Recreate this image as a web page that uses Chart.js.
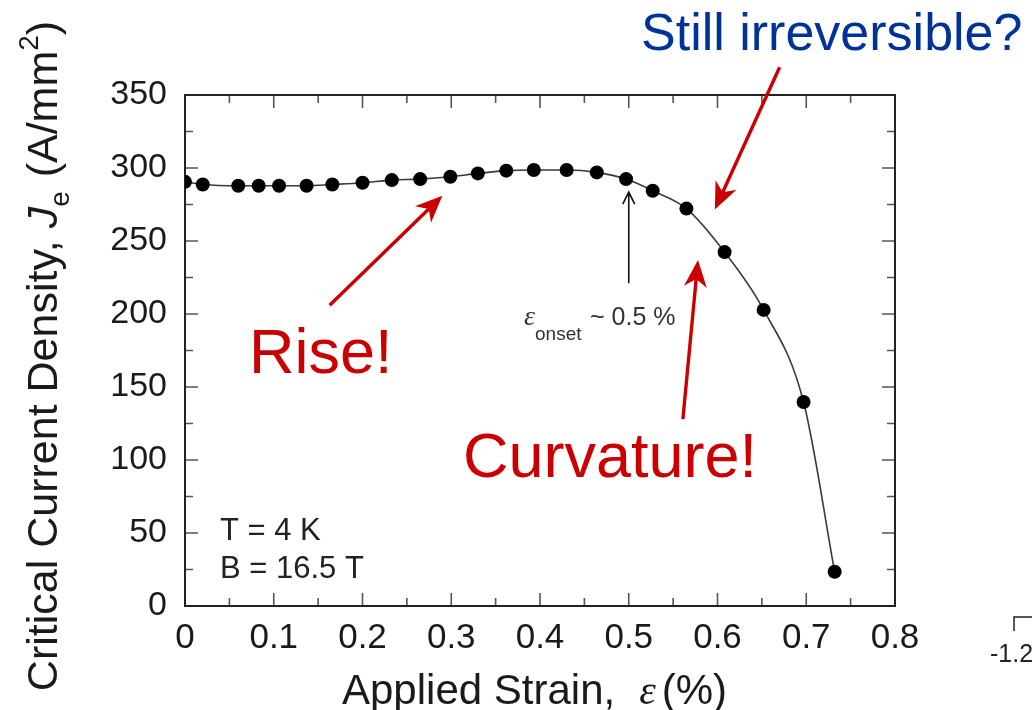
<!DOCTYPE html>
<html>
<head>
<meta charset="utf-8">
<script src="https://cdn.jsdelivr.net/npm/chart.js@4/dist/chart.umd.min.js"></script>
<style>
  body { margin: 0; background: #fff; }
  canvas { display: block; }
</style>
</head>
<body>
<canvas id="jc" width="1032" height="710"></canvas>
<script>
// applied strain (%) and engineering critical current density (A/mm2)
const strain = [0, 0.02, 0.06, 0.083, 0.106, 0.137, 0.166, 0.2, 0.233, 0.265, 0.299, 0.33,
  0.362, 0.393, 0.43, 0.464, 0.497, 0.527, 0.565, 0.608, 0.652, 0.697, 0.732];
const currentDensity = [290.5, 288.7, 287.8, 287.8, 287.8, 287.8, 288.7, 289.9, 291.7, 292.4, 294, 296.3,
  298.2, 298.6, 298.6, 297, 292.4, 284.4, 272.2, 242.4, 202.8, 139.7, 23.5];

const xTickLabels = ['0', '0.1', '0.2', '0.3', '0.4', '0.5', '0.6', '0.7', '0.8'];
const yTickLabels = ['0', '50', '100', '150', '200', '250', '300', '350'];

const SANS = '"Liberation Sans", Arial, sans-serif';
const SERIF = '"Liberation Serif", "Times New Roman", serif';
const RED = '#cc0000';

// filled stealth-style arrow
function redArrow(ctx, x1, y1, x2, y2) {
  const ang = Math.atan2(y2 - y1, x2 - x1);
  const L = 27, W = 11.5, N = 8;
  ctx.save();
  ctx.strokeStyle = RED;
  ctx.fillStyle = RED;
  ctx.lineWidth = 3.4;
  ctx.beginPath();
  ctx.moveTo(x1, y1);
  ctx.lineTo(x2 - Math.cos(ang) * (L - N), y2 - Math.sin(ang) * (L - N));
  ctx.stroke();
  ctx.translate(x2, y2);
  ctx.rotate(ang);
  ctx.beginPath();
  ctx.moveTo(0, 0);
  ctx.lineTo(-L, -W);
  ctx.lineTo(-L + N, 0);
  ctx.lineTo(-L, W);
  ctx.closePath();
  ctx.fill();
  ctx.restore();
}

// draws a run of [text, font, baselineShift, gapAfter] pieces from x
function textRun(ctx, parts, x, y) {
  parts.forEach(p => {
    ctx.font = p[1];
    ctx.fillText(p[0], x, y + p[2]);
    x += ctx.measureText(p[0]).width + (p[3] || 0);
  });
}

const framePlugin = {
  id: 'frame',
  beforeDatasetsDraw(chart) {
    const { ctx, chartArea: a, scales: { x, y } } = chart;
    ctx.save();
    ctx.strokeStyle = '#555';
    ctx.lineWidth = 1.6;
    ctx.beginPath();
    for (let i = 0; i <= 16; i++) {
      const px = x.getPixelForValue(i / 20);
      const len = i % 2 === 0 ? 13 : 8;
      ctx.moveTo(px, a.bottom); ctx.lineTo(px, a.bottom - len);
      ctx.moveTo(px, a.top); ctx.lineTo(px, a.top + len);
    }
    for (let i = 0; i <= 14; i++) {
      const py = y.getPixelForValue(i * 25);
      const len = i % 2 === 0 ? 13 : 8;
      ctx.moveTo(a.left, py); ctx.lineTo(a.left + len, py);
      ctx.moveTo(a.right, py); ctx.lineTo(a.right - len, py);
    }
    ctx.stroke();
    ctx.strokeStyle = '#222';
    ctx.lineWidth = 2;
    ctx.strokeRect(a.left, a.top, a.right - a.left, a.bottom - a.top);
    ctx.restore();
  },
  afterDraw(chart) {
    const { ctx, scales: { x, y } } = chart;
    const P = (vx, vy) => [x.getPixelForValue(vx), y.getPixelForValue(vy)];
    ctx.save();
    ctx.textBaseline = 'alphabetic';
    ctx.textAlign = 'left';

    // y axis title, rotated
    ctx.save();
    ctx.fillStyle = '#1a1a1a';
    const yTitle = [
      ['Critical Current Density, ', '43px ' + SANS, 0],
      ['J', 'italic 43px ' + SANS, 0],
      ['e', '28px ' + SANS, 12, 2],
      [' (A/mm', '43px ' + SANS, 0],
      ['2', '28px ' + SANS, -19],
      [')', '43px ' + SANS, 0]
    ];
    let total = 0;
    yTitle.forEach(p => { ctx.font = p[1]; total += ctx.measureText(p[0]).width + (p[3] || 0); });
    ctx.translate(57, 356);
    ctx.rotate(-Math.PI / 2);
    textRun(ctx, yTitle, -total / 2, 0);
    ctx.restore();

    // x axis title
    ctx.fillStyle = '#1a1a1a';
    textRun(ctx, [
      ['Applied Strain,', '42px ' + SANS, 0, 24],
      ['\u03b5', 'italic 42px ' + SERIF, 0, 6],
      ['(%)', '42px ' + SANS, 0]
    ], 342, 704);

    // measurement conditions
    ctx.fillStyle = '#222';
    ctx.font = '31px ' + SANS;
    ctx.fillText('T = 4 K', 220, 540);
    ctx.fillText('B = 16.5 T', 220, 578);

    // onset marker
    const [ox, oTop] = P(0.5, 283.5);
    const oBot = y.getPixelForValue(221);
    ctx.strokeStyle = '#111';
    ctx.lineWidth = 1.6;
    ctx.beginPath();
    ctx.moveTo(ox, oBot); ctx.lineTo(ox, oTop);
    ctx.moveTo(ox - 6, oTop + 12); ctx.lineTo(ox, oTop); ctx.lineTo(ox + 6, oTop + 12);
    ctx.stroke();
    ctx.fillStyle = '#333';
    ctx.font = 'italic 28px ' + SERIF;
    ctx.fillText('\u03b5', 524, 325);
    ctx.font = '19px ' + SANS;
    ctx.fillText('onset', 535, 340);
    ctx.font = '25px ' + SANS;
    ctx.fillText('~ 0.5 %', 590, 325);

    // callouts
    ctx.fillStyle = RED;
    ctx.font = '63px ' + SANS;
    ctx.fillText('Rise!', 249, 373);
    ctx.fillText('Curvature!', 463, 477);
    ctx.fillStyle = '#003399';
    ctx.font = '52px ' + SANS;
    ctx.fillText('Still irreversible?', 641, 50);

    redArrow(ctx, ...P(0.163, 206), ...P(0.290, 281));
    redArrow(ctx, ...P(0.561, 128), ...P(0.578, 237));
    redArrow(ctx, ...P(0.670, 369), ...P(0.597, 271.5));

    // edge of the neighbouring panel
    ctx.strokeStyle = '#222';
    ctx.lineWidth = 1.5;
    ctx.beginPath();
    ctx.moveTo(1014, 631); ctx.lineTo(1014, 617); ctx.lineTo(1032, 617);
    ctx.stroke();
    ctx.fillStyle = '#222';
    ctx.font = '25px ' + SANS;
    ctx.fillText('-1.2', 990, 662);
    ctx.restore();
  }
};

new Chart(document.getElementById('jc').getContext('2d'), {
  type: 'line',
  data: {
    datasets: [{
      data: strain.map((s, i) => ({ x: s, y: currentDensity[i] })),
      borderColor: '#3a3a3a',
      borderWidth: 1.6,
      backgroundColor: '#000',
      pointBackgroundColor: '#000',
      pointBorderWidth: 0,
      pointRadius: 7,
      cubicInterpolationMode: 'monotone',
      fill: false
    }]
  },
  options: {
    responsive: false,
    animation: false,
    layout: { padding: { left: 0, top: 95, right: 137, bottom: 0 } },
    plugins: { legend: { display: false }, tooltip: { enabled: false } },
    scales: {
      x: {
        type: 'linear',
        min: 0,
        max: 0.8,
        grid: { display: false },
        border: { display: false },
        afterFit(scale) { scale.height = 104; },
        ticks: {
          stepSize: 0.1,
          padding: 3,
          color: '#1a1a1a',
          font: { family: SANS, size: 35 },
          maxRotation: 0,
          callback: (v, i) => xTickLabels[i]
        }
      },
      y: {
        min: 0,
        max: 350,
        grid: { display: false },
        border: { display: false },
        afterFit(scale) { scale.width = 185; },
        ticks: {
          stepSize: 50,
          padding: 10,
          color: '#1a1a1a',
          font: { family: SANS, size: 34 },
          callback: (v, i) => yTickLabels[i]
        }
      }
    }
  },
  plugins: [framePlugin]
});
</script>
</body>
</html>
